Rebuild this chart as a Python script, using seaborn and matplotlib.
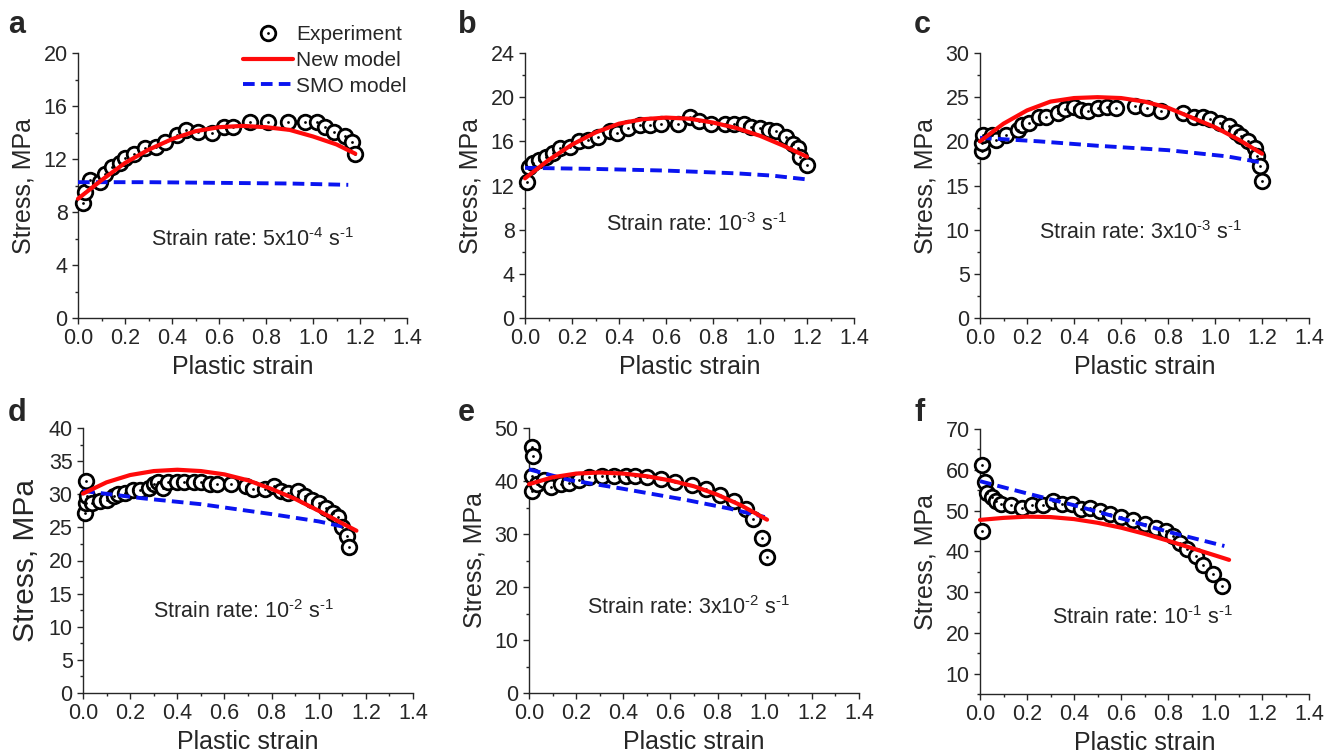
import matplotlib
matplotlib.use("Agg")
import numpy as np
import pandas as pd
import seaborn as sns
import matplotlib.pyplot as plt
from matplotlib.lines import Line2D
from matplotlib.ticker import MultipleLocator, AutoMinorLocator

sns.set_style("ticks")
plt.rcParams['font.family'] = ['Liberation Sans', 'DejaVu Sans']
plt.rcParams['mathtext.fontset'] = 'custom'
plt.rcParams['mathtext.rm'] = 'Liberation Sans'
plt.rcParams['mathtext.it'] = 'Liberation Sans'

# ---- panel a : 5x10^-4 s^-1
a_exp_x = [0.023, 0.03, 0.05, 0.094, 0.115, 0.143, 0.18, 0.20, 0.24, 0.285, 0.33, 0.37, 0.42, 0.46,
           0.51, 0.57, 0.62, 0.66, 0.73, 0.81, 0.895, 0.966, 1.015, 1.05, 1.09, 1.136, 1.165, 1.18]
a_exp_y = [8.7, 9.5, 10.4, 10.3, 10.9, 11.4, 11.7, 12.1, 12.4, 12.8, 12.9, 13.3, 13.8, 14.2,
           14.06, 14.0, 14.4, 14.4, 14.8, 14.8, 14.8, 14.8, 14.8, 14.4, 14.06, 13.7, 13.3, 12.4]
a_new_x = [0, 0.1, 0.2, 0.3, 0.4, 0.5, 0.6, 0.7, 0.8, 0.9, 1.0, 1.1, 1.18]
a_new_y = [9.0, 10.4, 11.7, 12.7, 13.5, 14.1, 14.4, 14.5, 14.4, 14.2, 13.7, 13.1, 12.4]
a_smo_x = [0, 0.3, 0.6, 0.9, 1.15]
a_smo_y = [10.25, 10.25, 10.2, 10.15, 10.05]

# ---- panel b : 10^-3 s^-1
b_exp_x = [0.01, 0.017, 0.034, 0.06, 0.09, 0.12, 0.15, 0.19, 0.23, 0.27, 0.31, 0.36, 0.39, 0.44, 0.49,
           0.53, 0.58, 0.65, 0.70, 0.74, 0.79, 0.85, 0.89, 0.93, 0.96, 1.0, 1.04, 1.07, 1.11, 1.14,
           1.16, 1.17, 1.20]
b_exp_y = [12.3, 13.7, 14.0, 14.3, 14.6, 14.9, 15.4, 15.5, 16.0, 16.1, 16.4, 16.9, 16.8, 17.2, 17.5,
           17.5, 17.6, 17.6, 18.2, 17.8, 17.6, 17.6, 17.6, 17.6, 17.3, 17.2, 17.0, 16.9, 16.4, 15.8,
           15.4, 14.6, 13.9]
b_new_x = [0, 0.1, 0.2, 0.3, 0.4, 0.5, 0.6, 0.7, 0.8, 0.9, 1.0, 1.1, 1.2]
b_new_y = [12.65, 14.3, 15.7, 16.8, 17.6, 18.0, 18.15, 18.05, 17.7, 17.2, 16.5, 15.6, 14.6]
b_smo_x = [0, 0.3, 0.6, 0.9, 1.05, 1.2]
b_smo_y = [13.6, 13.5, 13.35, 13.1, 12.9, 12.55]

# ---- panel c : 3x10^-3 s^-1
c_exp_x = [0.007, 0.01, 0.014, 0.05, 0.07, 0.11, 0.16, 0.18, 0.21, 0.25, 0.28, 0.33, 0.36, 0.40, 0.43,
           0.46, 0.50, 0.54, 0.58, 0.66, 0.71, 0.77, 0.865, 0.91, 0.95, 0.98, 1.02, 1.06, 1.09, 1.11,
           1.14, 1.17, 1.18, 1.19, 1.20]
c_exp_y = [18.9, 19.8, 20.75, 20.75, 20.2, 20.75, 21.3, 21.9, 22.1, 22.8, 22.8, 23.2, 23.7, 23.9, 23.6,
           23.4, 23.8, 23.9, 23.8, 24.0, 23.8, 23.4, 23.2, 22.8, 22.8, 22.5, 22.1, 21.7, 21.1, 20.6,
           20.0, 19.2, 18.3, 17.2, 15.5]
c_new_x = [0, 0.1, 0.2, 0.3, 0.4, 0.5, 0.6, 0.7, 0.8, 0.9, 1.0, 1.1, 1.2]
c_new_y = [20.0, 22.0, 23.5, 24.5, 24.9, 25.0, 24.9, 24.5, 23.8, 22.7, 21.6, 20.2, 18.6]
c_smo_x = [0, 0.25, 0.5, 0.8, 1.05, 1.2]
c_smo_y = [20.4, 20.0, 19.5, 19.0, 18.3, 17.6]

# ---- panel d : 10^-2 s^-1
d_exp_x = [0.007, 0.011, 0.011, 0.017, 0.04, 0.07, 0.10, 0.13, 0.15, 0.18, 0.21, 0.24, 0.28, 0.30,
           0.32, 0.34, 0.36, 0.40, 0.43, 0.47, 0.50, 0.54, 0.57, 0.63, 0.69, 0.72, 0.77, 0.81, 0.84,
           0.87, 0.91, 0.94, 0.97, 1.0, 1.03, 1.06, 1.08, 1.10, 1.12, 1.13]
d_exp_y = [27.1, 28.7, 32.0, 29.7, 28.7, 29.0, 29.2, 29.7, 30.0, 30.2, 30.7, 30.7, 31.0, 31.5,
           31.8, 31.0, 31.8, 31.8, 31.8, 31.8, 31.8, 31.5, 31.5, 31.5, 31.3, 30.8, 30.8, 31.3, 30.5,
           30.2, 30.5, 29.7, 29.2, 28.7, 28.0, 27.2, 26.5, 25.0, 23.7, 22.0]
d_new_x = [0, 0.1, 0.2, 0.3, 0.4, 0.5, 0.6, 0.7, 0.8, 0.9, 1.0, 1.1, 1.16]
d_new_y = [30.1, 31.8, 32.9, 33.5, 33.7, 33.5, 33.0, 32.1, 30.8, 29.3, 27.5, 25.6, 24.5]
d_smo_x = [0, 0.25, 0.5, 0.8, 1.0, 1.13]
d_smo_y = [30.5, 29.4, 28.5, 27.0, 25.9, 24.9]

# ---- panel e : 3x10^-2 s^-1
e_exp_x = [0.011, 0.017, 0.011, 0.011, 0.035, 0.064, 0.092, 0.135, 0.17, 0.21, 0.255, 0.31, 0.36,
           0.41, 0.45, 0.50, 0.56, 0.62, 0.69, 0.75, 0.81, 0.87, 0.92, 0.95, 0.99, 1.01]
e_exp_y = [46.4, 44.8, 41.0, 38.2, 39.4, 40.1, 38.8, 39.4, 39.7, 40.1, 40.7, 41.0, 41.0,
           41.0, 41.0, 40.7, 40.3, 39.9, 39.2, 38.5, 37.4, 36.3, 34.8, 32.8, 29.2, 25.7]
e_new_x = [0, 0.1, 0.2, 0.3, 0.4, 0.5, 0.6, 0.7, 0.8, 0.9, 1.01]
e_new_y = [39.4, 40.7, 41.4, 41.6, 41.4, 40.9, 40.1, 39.0, 37.4, 35.4, 32.7]
e_smo_x = [0, 0.17, 0.39, 0.67, 0.85, 1.0]
e_smo_y = [42.2, 40.2, 38.6, 36.4, 34.8, 33.2]

# ---- panel f : 10^-1 s^-1
f_exp_x = [0.01, 0.01, 0.02, 0.03, 0.05, 0.07, 0.09, 0.13, 0.18, 0.22, 0.27, 0.31, 0.35, 0.39, 0.43,
           0.47, 0.51, 0.555, 0.60, 0.65, 0.70, 0.75, 0.79, 0.82, 0.85, 0.88, 0.92, 0.95, 0.99, 1.03]
f_exp_y = [61.1, 45.0, 57.0, 54.2, 53.2, 52.3, 51.5, 51.3, 50.7, 51.3, 51.3, 52.3, 51.5, 51.5, 50.5,
           50.7, 49.9, 49.1, 48.5, 47.6, 46.6, 45.8, 45.0, 43.8, 42.1, 40.5, 38.9, 36.6, 34.4, 31.4]
f_new_x = [0, 0.1, 0.2, 0.3, 0.4, 0.5, 0.6, 0.7, 0.8, 0.9, 1.0, 1.06]
f_new_y = [47.7, 48.2, 48.5, 48.4, 47.9, 47.0, 45.8, 44.3, 42.6, 40.8, 39.0, 37.9]
f_smo_x = [0, 0.2, 0.4, 0.6, 0.8, 1.04]
f_smo_y = [57.2, 54.2, 51.3, 48.1, 44.8, 41.3]

rates = [r'5x10$^{\text{-4}}$', r'10$^{\text{-3}}$', r'3x10$^{\text{-3}}$',
         r'10$^{\text{-2}}$', r'3x10$^{\text{-2}}$', r'10$^{\text{-1}}$']

panels = [
    ('a', a_exp_x, a_exp_y, a_new_x, a_new_y, a_smo_x, a_smo_y, (0, 20), 4),
    ('b', b_exp_x, b_exp_y, b_new_x, b_new_y, b_smo_x, b_smo_y, (0, 24), 4),
    ('c', c_exp_x, c_exp_y, c_new_x, c_new_y, c_smo_x, c_smo_y, (0, 30), 5),
    ('d', d_exp_x, d_exp_y, d_new_x, d_new_y, d_smo_x, d_smo_y, (0, 40), 5),
    ('e', e_exp_x, e_exp_y, e_new_x, e_new_y, e_smo_x, e_smo_y, (0, 50), 10),
    ('f', f_exp_x, f_exp_y, f_new_x, f_new_y, f_smo_x, f_smo_y, (5, 70), 10),
]

# axes boxes in pixels: left, bottom(from top), width, height
W, H = 1338, 756
boxes = [(78, 318, 329, 265), (525, 318, 329, 265), (980, 318, 329, 265),
         (83, 693, 330, 265), (529, 693, 330, 265), (980, 694, 329, 265)]
text_pos = [(0.53, 0.27), (0.52, 0.33), (0.49, 0.30), (0.485, 0.283), (0.485, 0.298), (0.495, 0.264)]
letter_pos = [(8, 33), (458, 33), (914, 33), (8, 421), (458, 421), (914, 421)]

RED = '#ff0a0a'
BLUE = '#0a14f0'

fig = plt.figure(figsize=(13.38, 7.56), dpi=100)

for i, (lab, ex, ey, nx, ny, sx, sy, ylim, ystep) in enumerate(panels):
    l, b, w, h = boxes[i]
    ax = fig.add_axes([l / W, 1 - b / H, w / W, h / H])
    sns.scatterplot(x=ex, y=ey, ax=ax, s=110, color='white', edgecolor='black',
                    linewidth=2.0, clip_on=False, zorder=3)
    sns.scatterplot(x=ex, y=ey, ax=ax, s=4, color='black', edgecolor='black',
                    linewidth=0, clip_on=False, zorder=3.1)
    sns.lineplot(x=sx, y=sy, ax=ax, color=BLUE, lw=2.8, zorder=4, clip_on=False)
    ax.lines[-1].set_dashes((3, 1.6))
    sns.lineplot(x=nx, y=ny, ax=ax, color=RED, lw=3.0, zorder=5, clip_on=False)

    ax.set_xlim(0, 1.4)
    ax.set_ylim(*ylim)
    ax.xaxis.set_major_locator(MultipleLocator(0.2))
    ax.xaxis.set_minor_locator(MultipleLocator(0.1))
    ax.yaxis.set_major_locator(MultipleLocator(ystep))
    ax.yaxis.set_minor_locator(AutoMinorLocator(2))
    if lab == 'f':
        ax.set_yticks([10, 20, 30, 40, 50, 60, 70])
    sns.despine(ax=ax)
    for sp in ax.spines.values():
        sp.set_linewidth(1.0)
    ax.tick_params(which='major', direction='out', length=4.5, width=1.0, labelsize=15.5, pad=3)
    ax.tick_params(which='minor', direction='out', length=2.5, width=1.0)
    ax.set_xticklabels([f'{v:.1f}' for v in ax.get_xticks()])
    ax.set_xlabel('Plastic strain', fontsize=18, labelpad=4)
    ax.set_ylabel('Stress, MPa', fontsize=21.5 if lab == 'd' else 18, labelpad=6)
    ax.text(text_pos[i][0], text_pos[i][1], 'Strain rate: ' + rates[i] + r' s$^{\text{-1}}$',
            transform=ax.transAxes, ha='center', va='baseline', fontsize=15.5)
    fig.text(letter_pos[i][0] / W, 1 - letter_pos[i][1] / H, lab, fontsize=22,
             fontweight='bold', ha='left', va='baseline')

    if lab == 'a':
        h_exp = (Line2D([], [], marker='o', ls='none', ms=10.5, mfc='white', mec='black', mew=2.0),
                 Line2D([], [], marker='o', ls='none', ms=2.0, mfc='black', mec='black', mew=0))
        h_new = Line2D([], [], color=RED, lw=3.0)
        h_smo = Line2D([], [], color=BLUE, lw=2.8, dashes=(3, 1.6))
        ax.legend([h_exp, h_new, h_smo], ['Experiment', 'New model', 'SMO model'],
                  loc='upper left', bbox_to_anchor=((243 - l) / w, (b - 25) / h),
                  frameon=False, fontsize=15, handlelength=2.4, handletextpad=0.15,
                  labelspacing=0.33, borderpad=0, borderaxespad=0)

fig.savefig('out.png', dpi=100)
